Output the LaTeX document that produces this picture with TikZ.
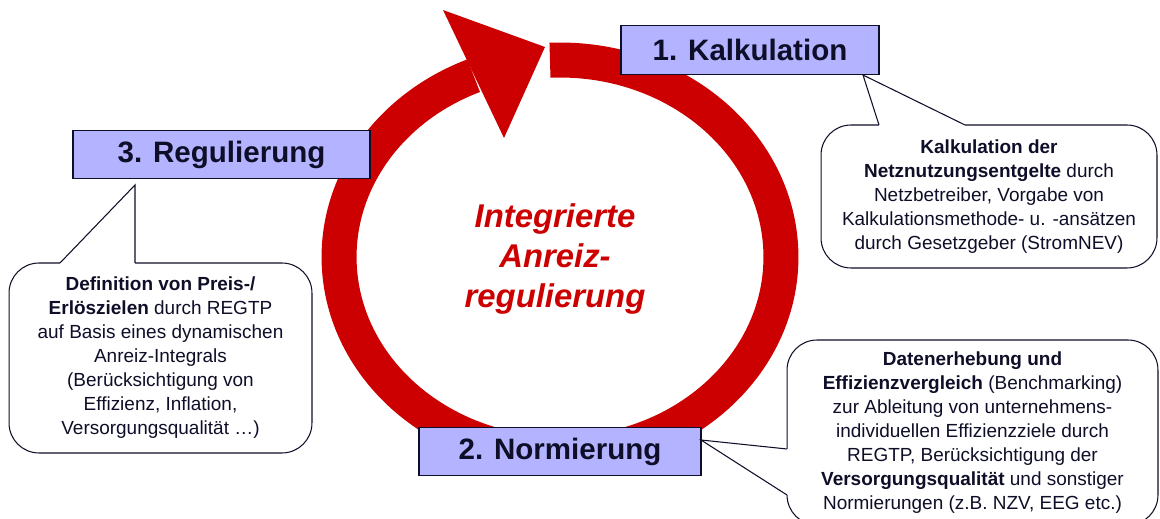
\documentclass[tikz,border=0pt]{standalone}
\usepackage{fontspec}
\setmainfont{Liberation Sans}
\definecolor{ringred}{RGB}{204,0,0}
\definecolor{boxfill}{RGB}{179,179,255}
\definecolor{ink}{RGB}{14,14,40}
\begin{document}
\begin{tikzpicture}[x=0.02cm,y=-0.02cm,
    ring/.style={ringred,line width=0.7cm},
    stage/.style={draw=ink,line width=0.7pt,fill=boxfill,text=ink,inner sep=0pt,
      minimum height=0.97cm,font=\fontsize{16.8}{20}\selectfont\bfseries},
    bubble/.style={draw=ink,line width=0.6pt,rounded corners=0.6cm,align=center,
      text=ink,inner sep=0pt,font=\fontsize{10.8}{13.65}\selectfont},
    tail/.style={draw=ink,line width=0.6pt,line join=miter}]
    \clip (0,0) rectangle (1160,519);
    % cycle with arrowhead
    \coordinate (centre) at (560,257);
    \draw[ring] (centre) ++(92.6:4.42cm and 3.94cm)
        arc[start angle=92.6,end angle=-247,x radius=4.42cm,y radius=3.94cm];
    \fill[ringred] (443,10) -- (545,47) -- (504,138) -- cycle;
    \node[text=ringred,align=center,font=\fontsize{18.7}{22.8}\selectfont\bfseries\itshape]
        (title) at (555,259) {Integrierte\\Anreiz-\\regulierung};
    % stages
    \node[stage,minimum width=5.16cm] (kalk) at (750,50) {1. Kalkulation};
    \node[stage,minimum width=5.64cm] (norm) at (560,451.5) {2. Normierung};
    \node[stage,minimum width=5.94cm] (reg) at (221.5,154.5) {3. Regulierung};
    % callouts
    \node[bubble,minimum width=6.72cm,minimum height=2.86cm] (kalktext) at (989,196.5)
        {\textbf{Kalkulation der}\\\textbf{Netznutzungsentgelte} durch\\Netzbetreiber, Vorgabe von\\Kalkulationsmethode- u. -ansätzen\\durch Gesetzgeber (StromNEV)};
    \node[bubble,minimum width=7.42cm,minimum height=3.7cm] (normtext) at (972.5,432.5)
        {\textbf{Datenerhebung und}\\\textbf{Effizienzvergleich} (Benchmarking)\\zur Ableitung von unternehmens-\\individuellen Effizienzziele durch\\REGTP, Berücksichtigung der\\\textbf{Versorgungsqualität} und sonstiger\\Normierungen (z.B. NZV, EEG etc.)};
    \node[bubble,minimum width=6.06cm,minimum height=3.8cm] (regtext) at (160.5,358)
        {\textbf{Definition von Preis-/}\\\textbf{Erlöszielen} durch REGTP\\auf Basis eines dynamischen\\Anreiz-Integrals\\(Berücksichtigung von\\Effizienz, Inflation,\\Versorgungsqualität …)};
    % tails
    \coordinate (kalktip) at (863,75);
    \coordinate (kalkA) at (879,125);
    \coordinate (kalkB) at (965,125);
    \coordinate (normtip) at (701,440);
    \coordinate (normA) at (787,449);
    \coordinate (normB) at (787,495);
    \coordinate (regtip) at (135,185);
    \coordinate (regA) at (60,263);
    \coordinate (regB) at (135,263);
    \foreach \t in {kalk,norm,reg} {
        \fill[white] (\t A) -- (\t tip) -- (\t B) -- cycle;
        \draw[white,line width=1.4pt] (\t A) -- (\t B);
        \draw[tail] (\t A) -- (\t tip) -- (\t B);
    }
\end{tikzpicture}
\end{document}
